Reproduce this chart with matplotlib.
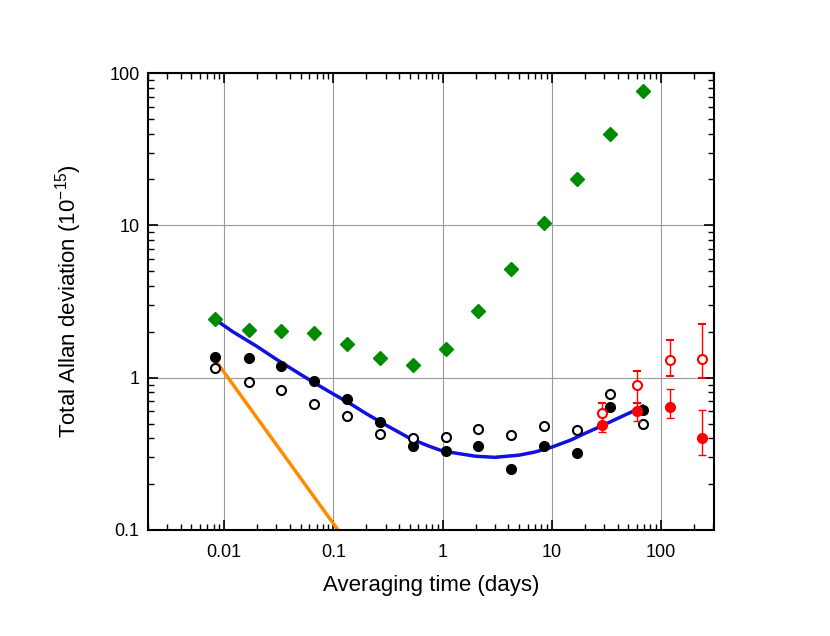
import matplotlib
matplotlib.use("Agg")
import matplotlib.pyplot as plt
import numpy as np

plt.rcParams['font.family'] = ['Liberation Sans', 'DejaVu Sans']
plt.rcParams['mathtext.default'] = 'regular'

tau = [0.0083, 0.0167, 0.033, 0.067, 0.133, 0.267, 0.53, 1.07, 2.13, 4.27, 8.5, 17, 34, 68]
green = [2.44, 2.04, 2.01, 1.95, 1.67, 1.35, 1.22, 1.55, 2.72, 5.2, 10.4, 20, 39.7, 76]
black_filled = [1.37, 1.35, 1.2, 0.95, 0.72, 0.51, 0.357, 0.33, 0.357, 0.25, 0.357, 0.32, 0.64, 0.61]
black_open = [1.16, 0.94, 0.83, 0.67, 0.56, 0.43, 0.40, 0.41, 0.46, 0.42, 0.48, 0.455, 0.78, 0.5]

red_tau = [29, 60, 120, 240]
red_filled = [0.49, 0.6, 0.64, 0.40]
red_filled_lo = [0.44, 0.52, 0.54, 0.31]
red_filled_hi = [0.56, 0.68, 0.84, 0.61]
red_open = [0.59, 0.89, 1.3, 1.33]
red_open_lo = [0.49, 0.68, 1.03, 1.0]
red_open_hi = [0.68, 1.1, 1.78, 2.25]

blue_tau = [0.0083, 0.012, 0.02, 0.03, 0.05, 0.075, 0.1, 0.15, 0.2, 0.3, 0.5, 0.75, 1, 1.5, 2, 3, 5, 7, 10, 15, 20, 30, 40, 55, 68]
blue_val = [2.4, 2.0, 1.6, 1.32, 1.05, 0.88, 0.78, 0.66, 0.58, 0.49, 0.40, 0.355, 0.33, 0.315, 0.305, 0.30, 0.31, 0.325, 0.35, 0.39, 0.43, 0.49, 0.54, 0.60, 0.65]

orange_tau = [0.0083, 0.11]
orange_val = [1.3, 0.1]

fig = plt.figure(figsize=(8.3, 6.36), dpi=100)
ax = fig.add_axes([148/830, 1-530/636, 566/830, 457/636])
ax.set_xscale('log'); ax.set_yscale('log')
ax.set_xlim(0.002, 306); ax.set_ylim(0.1, 100)
ax.grid(True, which='major', color='#999999', lw=0.8)
ax.set_axisbelow(True)

ax.plot(orange_tau, orange_val, color='#ff8c00', lw=2.5, zorder=2)
ax.plot(blue_tau, blue_val, color='#1010e0', lw=2.5, zorder=2)
ax.plot(tau, green, 'D', color='#008c00', ms=7, ls='none', zorder=3)
ax.plot(tau, black_filled, 'o', color='black', ms=7, ls='none', zorder=3)
ax.plot(tau, black_open, 'o', mfc='white', mec='black', mew=1.5, ms=6.5, ls='none', zorder=3)

rf = np.array(red_filled); ro = np.array(red_open)
ax.errorbar(red_tau, rf, yerr=[rf-np.array(red_filled_lo), np.array(red_filled_hi)-rf],
            fmt='o', color='red', ms=7, capsize=3, elinewidth=1, zorder=4)
ax.errorbar(red_tau, ro, yerr=[ro-np.array(red_open_lo), np.array(red_open_hi)-ro],
            fmt='o', mfc='white', mec='red', mew=1.5, ecolor='red', ms=6.5, capsize=3, elinewidth=1, zorder=4)

ax.set_xticks([0.01, 0.1, 1, 10, 100])
ax.set_xticklabels(['0.01', '0.1', '1', '10', '100'])
ax.set_yticks([0.1, 1, 10, 100])
ax.set_yticklabels(['0.1', '1', '10', '100'])
ax.tick_params(which='both', direction='in', top=True, right=True, labelsize=13)
ax.tick_params(axis='x', which='major', pad=10)
ax.tick_params(axis='y', which='major', pad=6)
ax.tick_params(which='major', length=7, width=1.2)
ax.tick_params(which='minor', length=4, width=1)
for s in ax.spines.values():
    s.set_linewidth(1.5)
ax.set_xlabel('Averaging time (days)', fontsize=16, labelpad=10)
ax.set_ylabel('Total Allan deviation (10$^{-15}$)', fontsize=16, labelpad=18)
fig.savefig('out.png', dpi=100)
